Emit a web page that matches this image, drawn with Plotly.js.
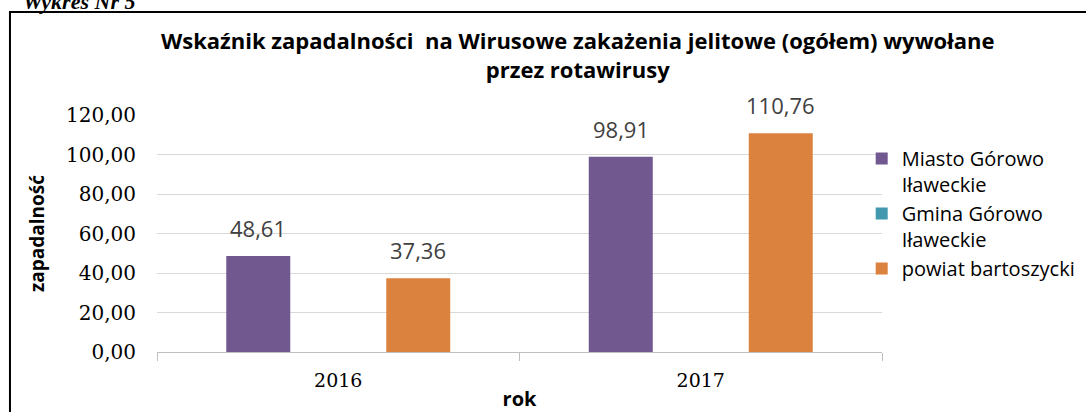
<!DOCTYPE html>
<html>
<head>
<meta charset="utf-8">
<script src="https://cdn.plot.ly/plotly-3.0.1.min.js"></script>
<style>html,body{margin:0;padding:0;background:#fff;}#chart{width:1086px;height:412px;}</style>
</head>
<body>
<div id="chart"></div>
<script>
const years = ['2016', '2017'];
const seriesNames = ['Miasto Górowo<br>Iławeckie', 'Gmina Górowo<br>Iławeckie', 'powiat bartoszycki'];
const miasto = [48.61, 98.91];
const gmina = [null, null];
const powiat = [37.36, 110.76];
const yTicks = [0, 20, 40, 60, 80, 100, 120];

const colors = ['#71588F', '#4198AF', '#DC823F'];
const labelShift = [-80, 0, 80];
const sans = '"Open Sans", Lato, sans-serif';
const serif = '"DejaVu Serif", "Liberation Serif", serif';

const seriesValues = [miasto, gmina, powiat];
const traces = seriesValues.map((vals, i) => ({
  type: 'bar',
  name: seriesNames[i],
  x: years,
  y: vals,
  marker: {color: colors[i]},
  hoverinfo: 'none'
}));

const labels = [];
seriesValues.forEach((vals, i) => {
  vals.forEach((v, j) => {
    if (v === null || v === undefined) return;
    labels.push({
      xref: 'x', yref: 'y', x: j, y: v,
      xshift: labelShift[i], yshift: 11,
      xanchor: 'center', yanchor: 'bottom',
      text: v.toFixed(2).replace('.', ','),
      showarrow: false,
      font: {family: sans, size: 22, color: '#404040'}
    });
  });
});

const layout = {
  width: 1086, height: 412,
  margin: {l: 157, r: 204, t: 115, b: 60, autoexpand: false},
  paper_bgcolor: '#fff', plot_bgcolor: '#fff',
  separators: ', ',
  barmode: 'group',
  bargap: 0.338,
  bargroupgap: 0.2,
  showlegend: true,
  title: {
    text: '<b>Wskaźnik zapadalności  na Wirusowe zakażenia jelitowe (ogółem) wywołane<br>przez rotawirusy</b>',
    font: {family: sans, size: 22, color: '#000'},
    x: 0.532, xanchor: 'center', y: 0.88, yanchor: 'top'
  },
  xaxis: {
    type: 'category',
    categoryorder: 'array', categoryarray: years,
    tickfont: {family: serif, size: 19, color: '#000'},
    ticks: 'outside', tickson: 'boundaries', ticklen: 8, tickcolor: '#bfbfbf',
    ticklabelstandoff: 11,
    showline: true, linecolor: '#bfbfbf', linewidth: 1,
    title: {text: '<b>rok</b>', font: {family: sans, size: 20, color: '#000'}, standoff: 4}
  },
  yaxis: {
    range: [0, 120],
    tickvals: yTicks,
    tickformat: '.2f',
    tickfont: {family: serif, size: 20, color: '#000'},
    gridcolor: '#d9d9d9', gridwidth: 1,
    zeroline: false,
    ticks: '', ticklabelstandoff: 20,
    title: {text: '<b>zapadalność</b>', font: {family: sans, size: 19, color: '#000'}, standoff: 16}
  },
  legend: {
    x: 0.972, xanchor: 'left', y: 0.899, yanchor: 'top',
    font: {family: sans, size: 20, color: '#000'},
    traceorder: 'normal',
    valign: 'top',
    itemwidth: 30,
    tracegroupgap: 0,
    bgcolor: 'rgba(0,0,0,0)'
  },
  shapes: [{
    type: 'rect', xref: 'paper', yref: 'paper',
    x0: -0.2028, x1: 1.287, y0: -0.287, y1: 1.4346,
    line: {color: '#000', width: 2}, fillcolor: 'rgba(0,0,0,0)', layer: 'below'
  }],
  annotations: labels.concat([{
    text: '<b><i>Wykres Nr 5</i></b>', xref: 'paper', yref: 'paper',
    x: -0.188, xanchor: 'left', y: 1.4177, yanchor: 'bottom',
    showarrow: false, font: {family: '"Liberation Serif", serif', size: 22, color: '#000'}
  }])
};

Plotly.newPlot('chart', traces, layout, {displayModeBar: false, staticPlot: true});
</script>
</body>
</html>
